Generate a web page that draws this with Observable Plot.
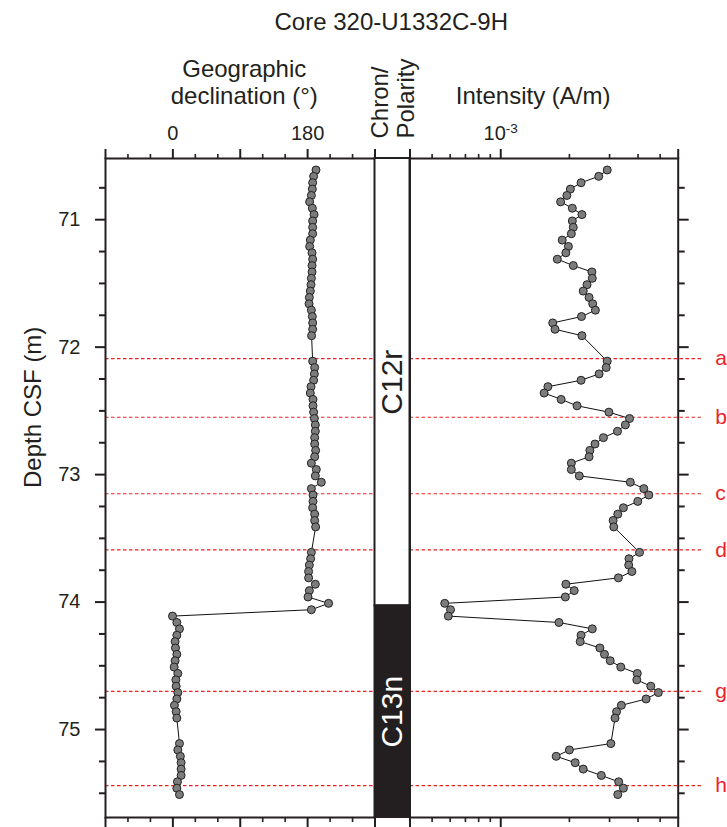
<!DOCTYPE html>
<html><head><meta charset="utf-8">
<script src="https://cdn.jsdelivr.net/npm/d3@7"></script>
<script src="https://cdn.jsdelivr.net/npm/@observablehq/plot@0.6"></script>
<style>
body{margin:0;background:#fff;}
#chart{position:relative;width:727px;height:827px;}
#chart svg{position:absolute;left:0;top:0;}
</style></head><body><div id="chart"></div>
<script>
// ---- data ----
const depth = [
  70.61,70.66,70.71,70.76,70.81,70.86,70.91,70.96,71.01,71.06,71.11,71.16,71.21,71.26,71.31,71.36,71.41,71.46,71.51,71.56,71.61,71.66,71.71,71.76,71.81,71.86,71.91,
  72.11,72.16,72.21,72.26,72.31,72.36,72.41,72.46,72.51,72.56,72.61,72.66,72.71,72.76,72.81,72.86,72.91,72.96,73.01,73.06,73.11,73.16,73.21,73.26,73.31,73.36,73.41,
  73.61,73.66,73.71,73.76,73.81,73.86,73.91,73.96,74.01,74.06,74.11,74.16,74.21,74.26,74.31,74.36,74.41,74.46,74.51,74.56,74.61,74.66,74.71,74.76,74.81,74.86,74.91,
  75.11,75.16,75.21,75.26,75.31,75.36,75.41,75.46,75.51
];
const declination = [
  191.2,188,186.7,186.3,185,182.7,186.3,188.6,186.7,186.7,186.7,183.6,182.7,185.9,186.7,185.9,185.9,185,184.5,183.6,182.3,181.9,185,186.3,186.7,186.7,185.3,
  186.7,189.4,189,188,184.5,183.6,187.2,187.2,188,189,190.3,190.3,189.4,189.4,190.7,189.4,185,191.6,190.3,198.3,185,187.2,187.2,186.7,189.4,189.4,190.7,
  185,184,182.3,181.3,181.3,190.3,182.3,180.5,208,185,-0.5,5.3,8.8,5.3,3.0,3.5,5.3,3.0,1.7,6.6,4.0,4.4,6.6,5.3,2.1,4.4,5.3,
  8.8,6.6,10.0,11.0,11.0,11.0,6.1,5.3,8.8
];
const intensity = [
  2.93e-3,2.69e-3,2.25e-3,2.02e-3,1.95e-3,1.83e-3,2.06e-3,2.27e-3,2.06e-3,2.08e-3,2.04e-3,1.86e-3,1.98e-3,1.93e-3,1.77e-3,2.08e-3,2.51e-3,2.52e-3,2.39e-3,2.30e-3,2.44e-3,2.53e-3,2.60e-3,2.26e-3,1.69e-3,1.73e-3,2.27e-3,
  2.93e-3,2.90e-3,2.70e-3,2.25e-3,1.61e-3,1.55e-3,1.84e-3,2.16e-3,2.98e-3,3.67e-3,3.52e-3,3.25e-3,2.82e-3,2.59e-3,2.46e-3,2.44e-3,2.04e-3,2.04e-3,2.21e-3,3.70e-3,4.24e-3,4.46e-3,3.99e-3,3.45e-3,3.26e-3,3.11e-3,3.13e-3,
  4.06e-3,3.65e-3,3.64e-3,3.76e-3,3.28e-3,1.93e-3,2.10e-3,1.92e-3,0.568e-3,0.602e-3,0.589e-3,1.80e-3,2.52e-3,2.25e-3,2.23e-3,2.72e-3,2.85e-3,3.02e-3,3.36e-3,3.97e-3,3.95e-3,4.55e-3,4.91e-3,4.34e-3,3.38e-3,3.22e-3,3.17e-3,
  3.04e-3,2.00e-3,1.75e-3,2.12e-3,2.30e-3,2.76e-3,3.29e-3,3.45e-3,3.26e-3
];
const chronName = ["C12r", "C13n"];
const chronPolarity = ["r", "n"];
const chronTop = [70.52, 74.03];
const chronBottom = [74.03, 75.69];
const markerLabel = ["a", "b", "c", "d", "g", "h"];
const markerDepth = [72.09, 72.55, 73.15, 73.59, 74.70, 75.44];
const depthDomain = [70.52, 75.69];
const depthMajor = [71, 72, 73, 74, 75];
const depthMinor = [70.75, 71.25, 71.5, 71.75, 72.25, 72.5, 72.75, 73.25, 73.5, 73.75, 74.25, 74.5, 74.75, 75.25, 75.5];
const decDomain = [-90, 270];
const decMajor = [-90, 0, 90, 180, 270];
const decLabeled = [0, 180];
const decMinor = [-60, -30, 30, 60, 120, 150, 210, 240];
const intDomain = [4e-4, 6e-3];
const intMajor = [4e-4, 1e-3, 6e-3];
const intLabeled = [1e-3];
const intMinor = [5e-4, 6e-4, 7e-4, 8e-4, 9e-4, 2e-3, 3e-3, 4e-3, 5e-3];

// ---- build ----
const rows = depth.map((d, i) => ({depth: d, dec: declination[i], int: intensity[i]}));
const chrons = chronName.map((n, i) => ({name: n, polarity: chronPolarity[i], top: chronTop[i], bottom: chronBottom[i]}));

const W = 727, H = 827;
const ink = "#231f20", red = "#ec2227", dotFill = "#7c7c7c";
const FONT = "Arial, 'Liberation Sans', sans-serif";
const FS = 20;   // tick labels
const HS = 24;   // headings
const common = {
  width: W, height: H, marginTop: 158, marginBottom: 10,
  y: {domain: depthDomain, reverse: true, label: null, axis: null},
  style: {background: "transparent", fontFamily: FONT, fontSize: FS + "px", color: ink, overflow: "visible"}
};
const blank = () => "";
const dash = "3.5,2.5";

function depthAxes(anchor) {
  return [
    Plot.axisY(depthMajor, {anchor, tickSize: 10, tickPadding: 15, strokeWidth: 2, stroke: ink, fill: ink, fontSize: FS, label: null,
      tickFormat: anchor === "left" ? d => d : blank}),
    Plot.axisY(depthMinor, {anchor, tickSize: 6, strokeWidth: 2, stroke: ink, tickFormat: blank, label: null})
  ];
}
function xAxes(major, labeled, minor, fmt) {
  const out = [];
  for (const anchor of ["top", "bottom"]) {
    out.push(Plot.axisX(major, {anchor, tickSize: 10, tickPadding: 9, strokeWidth: 2, stroke: ink, fill: ink, fontSize: FS, label: null,
      tickFormat: anchor === "top" ? d => (labeled.includes(d) ? fmt(d) : "") : blank}));
    out.push(Plot.axisX(minor, {anchor, tickSize: 5, strokeWidth: 1.6, stroke: ink, tickFormat: blank, label: null}));
  }
  return out;
}

// Declination panel
const p1 = Plot.plot({
  ...common, marginLeft: 105, marginRight: W - 374.5,
  x: {domain: decDomain, label: null, axis: null},
  marks: [
    Plot.ruleY(markerDepth, {stroke: red, strokeWidth: 1.2, strokeDasharray: dash}),
    Plot.line(rows, {x: "dec", y: "depth", stroke: "#111", strokeWidth: 1}),
    Plot.dot(rows, {x: "dec", y: "depth", r: 4, fill: dotFill, stroke: "#222", strokeWidth: 1}),
    Plot.frame({stroke: ink, strokeWidth: 2}),
    ...depthAxes("left"),
    ...xAxes(decMajor, decLabeled, decMinor, d => String(d)),
    Plot.text(["Depth CSF (m)"], {frameAnchor: "left", dx: -72, rotate: -90, fontSize: HS, fill: ink}),
    Plot.text(["Geographic\ndeclination (°)"], {frameAnchor: "top", dx: 4, dy: -55, lineAnchor: "bottom", lineHeight: 1.1, fontSize: HS, fill: ink}),
    Plot.text(["Core 320-U1332C-9H"], {frameAnchor: "top", dx: 151, dy: -129, lineAnchor: "bottom", fontSize: HS, fill: ink})
  ]
});

// Chron / polarity column
const p2 = Plot.plot({
  ...common, marginLeft: 374.5, marginRight: W - 409.5,
  x: {domain: [0, 1], label: null, axis: null},
  marks: [
    Plot.rect(chrons.filter(d => d.polarity === "r"), {x1: 0, x2: 1, y1: "top", y2: "bottom", fill: "white", stroke: ink, strokeWidth: 2}),
    Plot.rect(chrons.filter(d => d.polarity === "n"), {x1: 0, x2: 1, y1: "top", y2: "bottom", fill: ink, stroke: ink, strokeWidth: 2}),
    Plot.text(chrons, {x: 0.5, y: d => (d.top + d.bottom) / 2, text: "name", rotate: -90, fontSize: 30,
      fill: d => d.polarity === "n" ? "white" : ink}),
    Plot.axisX([0, 1], {anchor: "top", tickSize: 10, strokeWidth: 2, stroke: ink, tickFormat: blank, label: null}),
    Plot.axisX([0, 1], {anchor: "bottom", tickSize: 10, strokeWidth: 2, stroke: ink, tickFormat: blank, label: null}),
    Plot.text(["Chron/"], {frameAnchor: "top-left", dx: 12.5, dy: -20, rotate: -90, textAnchor: "start", lineAnchor: "bottom", fontSize: HS, fill: ink}),
    Plot.text(["Polarity"], {frameAnchor: "top-left", dx: 39, dy: -20, rotate: -90, textAnchor: "start", lineAnchor: "bottom", fontSize: HS, fill: ink})
  ]
});

// Intensity panel
const p3 = Plot.plot({
  ...common, marginLeft: 409.5, marginRight: W - 677.7,
  x: {type: "log", domain: intDomain, label: null, axis: null},
  marks: [
    Plot.ruleY(markerDepth, {stroke: red, strokeWidth: 1.2, strokeDasharray: dash, insetRight: -25}),
    Plot.text(markerLabel, {y: markerDepth, text: d => d, frameAnchor: "right", dx: 37, textAnchor: "start", fill: red, fontSize: 21}),
    Plot.line(rows, {x: "int", y: "depth", stroke: "#111", strokeWidth: 1}),
    Plot.dot(rows, {x: "int", y: "depth", r: 4, fill: dotFill, stroke: "#222", strokeWidth: 1}),
    Plot.frame({stroke: ink, strokeWidth: 2}),
    ...depthAxes("right"),
    ...xAxes(intMajor, intLabeled, intMinor, d => "10^" + Math.round(Math.log10(d))),
    Plot.text(["Intensity (A/m)"], {frameAnchor: "top", dx: -11, dy: -55, lineAnchor: "bottom", fontSize: HS, fill: ink})
  ]
});

const root = document.getElementById("chart");
for (const p of [p1, p2, p3]) root.appendChild(p);

// superscript exponent for the log tick label
p3.querySelectorAll("text").forEach(t => {
  const m = /^10\^(-?\d+)$/.exec(t.textContent);
  if (m) {
    t.textContent = "10";
    const s = document.createElementNS("http://www.w3.org/2000/svg", "tspan");
    s.setAttribute("dy", "-0.45em");
    s.setAttribute("font-size", "0.68em");
    s.textContent = m[1];
    t.appendChild(s);
  }
});
</script></body></html>
